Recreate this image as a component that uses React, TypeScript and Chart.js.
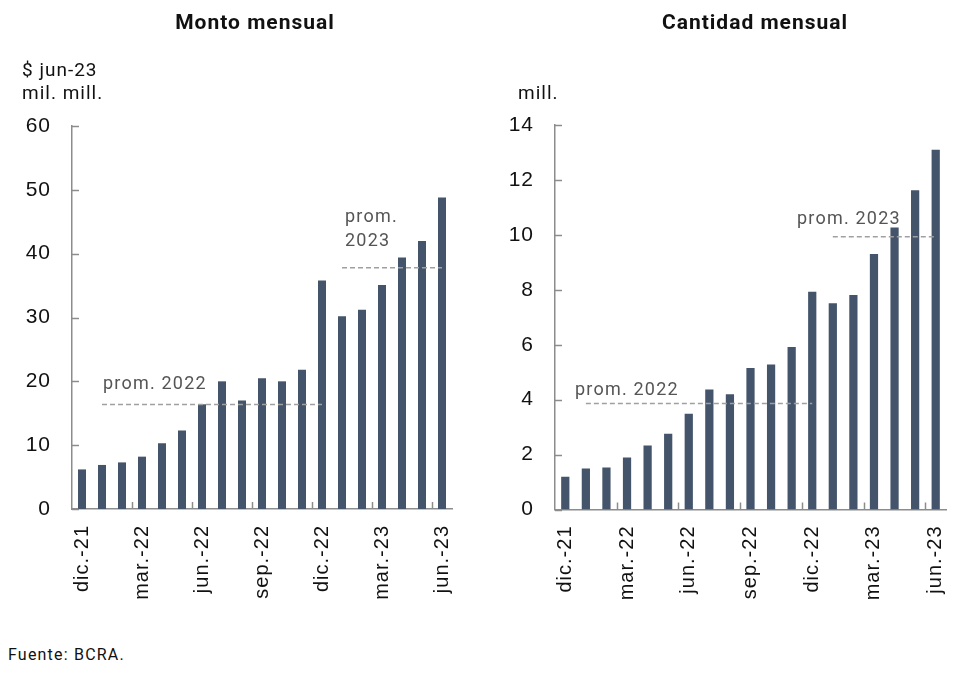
import React, { useEffect, useRef } from "react";
import { Chart, registerables } from "chart.js";

Chart.register(...registerables);

const months = [
  "dic.-21", "ene.-22", "feb.-22", "mar.-22", "abr.-22", "may.-22", "jun.-22",
  "jul.-22", "ago.-22", "sep.-22", "oct.-22", "nov.-22", "dic.-22",
  "ene.-23", "feb.-23", "mar.-23", "abr.-23", "may.-23", "jun.-23",
];
const montoValues = [6.2, 6.9, 7.3, 8.2, 10.3, 12.3, 16.4, 20.0, 17.0, 20.5, 20.0, 21.8, 35.8, 30.2, 31.2, 35.1, 39.4, 42.0, 48.8];
const cantidadValues = [1.19, 1.49, 1.53, 1.89, 2.33, 2.76, 3.49, 4.37, 4.2, 5.15, 5.28, 5.92, 7.93, 7.51, 7.81, 9.3, 10.27, 11.62, 13.1];
const montoTicks = { max: 60, step: 10 };
const cantidadTicks = { max: 14, step: 2 };
const labelEvery = 3;

const BAR_COLOR = "#44546A";
const AXIS_COLOR = "#8c8c8c";
const AVG_COLOR = "#a0a0a0";
const FONT = "Roboto";
const AXIS_FONT = "'Liberation Sans', Arial, sans-serif";

function yearAverageLine(values: number[], suffix: string): (number | null)[] {
  const idx = months.map((m, i) => (m.endsWith(suffix) ? i : -1)).filter((i) => i >= 0);
  const avg = idx.reduce((s, i) => s + values[i], 0) / idx.length;
  return months.map((_, i) => (idx.includes(i) ? avg : null));
}

const spacing = {
  id: "spacing",
  beforeDraw(chart: any) {
    chart.ctx.letterSpacing = "1px";
  },
};

const tickMarks = {
  id: "tickMarks",
  afterDraw(chart: any) {
    const { ctx, chartArea, scales } = chart;
    const y = scales.y;
    const x = scales.x;
    ctx.save();
    ctx.strokeStyle = AXIS_COLOR;
    ctx.lineWidth = 1.5;
    y.ticks.forEach((t: any) => {
      const py = Math.round(y.getPixelForValue(t.value)) + 0.5;
      ctx.beginPath();
      ctx.moveTo(chartArea.left, py);
      ctx.lineTo(chartArea.left + 7, py);
      ctx.stroke();
    });
    for (let i = labelEvery; i < months.length; i += labelEvery) {
      const px = Math.round((x.getPixelForValue(i - 1) + x.getPixelForValue(i)) / 2) + 0.5;
      ctx.beginPath();
      ctx.moveTo(px, chartArea.bottom);
      ctx.lineTo(px, chartArea.bottom - 7);
      ctx.stroke();
    }
    ctx.restore();
  },
};

function makeChart(
  canvas: HTMLCanvasElement,
  values: number[],
  ticks: { max: number; step: number },
  yWidth: number,
  padRight: number,
  padTop: number,
  xHeight: number
) {
  const lineStyle = {
    type: "line" as const,
    borderColor: AVG_COLOR,
    borderWidth: 1.5,
    borderDash: [5, 3],
    pointRadius: 0,
    fill: false,
    spanGaps: false,
    order: 0,
  };
  return new Chart(canvas, {
    type: "bar",
    data: {
      labels: months,
      datasets: [
        { ...lineStyle, data: yearAverageLine(values, "-22") } as any,
        { ...lineStyle, data: yearAverageLine(values, "-23") } as any,
        {
          type: "bar",
          data: values,
          backgroundColor: BAR_COLOR,
          barPercentage: 0.4,
          categoryPercentage: 1,
          order: 1,
        },
      ],
    },
    options: {
      animation: false,
      responsive: false,
      maintainAspectRatio: false,
      layout: { padding: { top: padTop, right: padRight, left: 0, bottom: 0 } },
      plugins: { legend: { display: false }, tooltip: { enabled: false } },
      scales: {
        x: {
          grid: { display: false, drawTicks: false },
          border: { display: true, color: AXIS_COLOR, width: 1.5 },
          ticks: {
            autoSkip: false,
            maxRotation: 90,
            minRotation: 90,
            padding: 16,
            color: "#111",
            font: { family: AXIS_FONT, size: 20 },
            callback: (_v: any, i: number) => (i % labelEvery === 0 ? months[i] : ""),
          },
          afterFit: (s: any) => {
            s.height = xHeight;
            s.paddingLeft = 0;
            s.paddingRight = 0;
          },
        },
        y: {
          min: 0,
          max: ticks.max,
          grid: { display: false, drawTicks: false },
          border: { display: true, color: AXIS_COLOR, width: 1.5 },
          ticks: {
            stepSize: ticks.step,
            padding: 21,
            color: "#111",
            font: { family: AXIS_FONT, size: 21 },
          },
          afterFit: (s: any) => {
            s.width = yWidth;
            s.paddingTop = 0;
            s.paddingBottom = 0;
          },
        },
      },
    },
    plugins: [spacing, tickMarks],
  });
}

const abs = (left: number, top: number, extra: React.CSSProperties = {}): React.CSSProperties => ({
  position: "absolute",
  left,
  top,
  fontFamily: FONT,
  color: "#111",
  whiteSpace: "nowrap",
  lineHeight: 1,
  letterSpacing: "1px",
  ...extra,
});

export default function App() {
  const leftRef = useRef<HTMLCanvasElement>(null);
  const rightRef = useRef<HTMLCanvasElement>(null);

  useEffect(() => {
    const a = makeChart(leftRef.current!, montoValues, montoTicks, 72, 28, 126, 131);
    const b = makeChart(rightRef.current!, cantidadValues, cantidadTicks, 75, 14, 125, 130.5);
    return () => {
      a.destroy();
      b.destroy();
    };
  }, []);

  const promStyle: React.CSSProperties = { color: "#555", fontSize: 18, letterSpacing: "1.2px" };

  return (
    <div style={{ position: "absolute", left: 0, top: 0, width: 960, height: 681, background: "#fff", overflow: "hidden" }}>
      <canvas ref={leftRef} width={480} height={640} style={{ position: "absolute", left: 0, top: 0, width: 480, height: 640 }} />
      <canvas ref={rightRef} width={480} height={640} style={{ position: "absolute", left: 480, top: 0, width: 480, height: 640 }} />

      <div style={abs(255, 12, { fontWeight: 700, fontSize: 21, transform: "translateX(-50%)" })}>Monto mensual</div>
      <div style={abs(755, 12, { fontWeight: 700, fontSize: 21, transform: "translateX(-50%)" })}>Cantidad mensual</div>

      <div style={abs(22, 60, { fontSize: 19 })}>$ jun-23</div>
      <div style={abs(22, 83, { fontSize: 19 })}>mil. mill.</div>
      <div style={abs(518, 83, { fontSize: 19 })}>mill.</div>

      <div style={abs(103, 374, promStyle)}>prom. 2022</div>
      <div style={abs(345, 207, promStyle)}>prom.</div>
      <div style={abs(345, 231, promStyle)}>2023</div>
      <div style={abs(575, 380, promStyle)}>prom. 2022</div>
      <div style={abs(797, 209, promStyle)}>prom. 2023</div>

      <div style={abs(8, 647, { fontSize: 16, letterSpacing: "1.2px" })}>Fuente: BCRA.</div>
    </div>
  );
}
